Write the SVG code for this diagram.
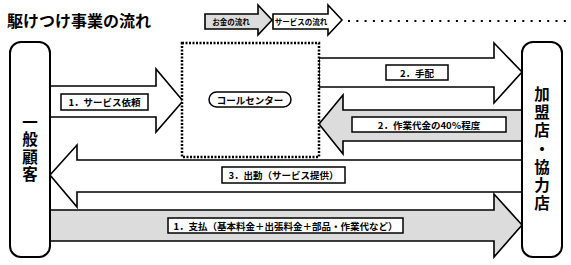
<svg xmlns="http://www.w3.org/2000/svg" width="571" height="265" viewBox="0 0 571 265">
<style>
text{font-family:"Noto Sans CJK JP","Noto Sans",sans-serif;font-weight:bold;fill:#000}
.arrow{stroke:#000;stroke-width:1.6;stroke-linejoin:miter}
.white{fill:#fff}
.grey{fill:#dcdcdc}
.lbl{fill:#fff;stroke:#000;stroke-width:1.5}
.lt{font-size:9.5px;text-anchor:middle;dominant-baseline:central}
.node{fill:#fff;stroke:#000;stroke-width:2}
.nt{font-size:15.5px;writing-mode:vertical-rl}
</style>
<rect width="571" height="265" fill="#fff"/>
<text x="7" y="27" font-size="16">駆けつけ事業の流れ</text>
<g id="legend">
<polygon class="arrow grey" points="205,14 258,14 258,5 272,20 258,35 258,29 205,29"/>
<text x="231" y="21.5" font-size="7.5" text-anchor="middle" dominant-baseline="central">お金の流れ</text>
<polygon class="arrow white" points="273,14 328,14 328,5 342,20 328,35 328,29 273,29"/>
<text x="301" y="21.5" font-size="7.5" text-anchor="middle" dominant-baseline="central">サービスの流れ</text>
<line x1="348" y1="21" x2="566" y2="21" stroke="#000" stroke-width="2" stroke-dasharray="2 6.3"/>
</g>
<g id="connectors">
<g id="c1">
<polygon class="arrow white" points="50,86 156,86 156,69 183,101 156,132 156,117 50,117"/>
<rect class="lbl" x="61" y="94" width="87" height="16"/>
<text class="lt" x="104.5" y="102">1．サービス依頼</text>
</g>
<g id="c2">
<polygon class="arrow white" points="319,58 494,58 494,43 522,72 494,103 494,87 319,87"/>
<rect class="lbl" x="386" y="65" width="62" height="15"/>
<text class="lt" x="417" y="72.5">2．手配</text>
</g>
<g id="c3">
<polygon class="arrow grey" points="522,110 343,110 343,95 319,124 343,154 343,141 522,141"/>
<rect class="lbl" x="352" y="117" width="154" height="15"/>
<text class="lt" x="429" y="124.5">2．作業代金の40％程度</text>
</g>
<g id="c4">
<polygon class="arrow white" points="522,160 77,160 77,145 50,175 77,207 77,192 522,192"/>
<rect class="lbl" x="222" y="167" width="123" height="16"/>
<text class="lt" x="283.5" y="175">3．出動（サービス提供）</text>
</g>
<g id="c5">
<polygon class="arrow grey" points="50,210 494,210 494,194 522,225 494,257 494,241 50,241"/>
<rect class="lbl" x="168" y="218" width="235" height="15"/>
<text class="lt" x="285.5" y="225.5">1．支払（基本料金＋出張料金＋部品・作業代など）</text>
</g>
</g>
<g id="callcenter">
<rect x="182" y="43" width="137" height="114" fill="#fff" stroke="#000" stroke-width="2.5" stroke-dasharray="2 1.5"/>
<rect x="209" y="92" width="82" height="15" rx="7.5" fill="#fff" stroke="#000" stroke-width="1.5"/>
<text class="lt" x="250" y="99.5" font-size="10">コールセンター</text>
</g>
<g id="customer">
<rect class="node" x="10" y="42" width="40" height="215" rx="11"/>
<text class="nt" x="30" y="114" letter-spacing="2">一般顧客</text>
</g>
<g id="shop">
<rect class="node" x="522" y="42" width="40" height="215" rx="11"/>
<text class="nt" x="542" y="86" letter-spacing="2.8">加盟店・協力店</text>
</g>
</svg>
